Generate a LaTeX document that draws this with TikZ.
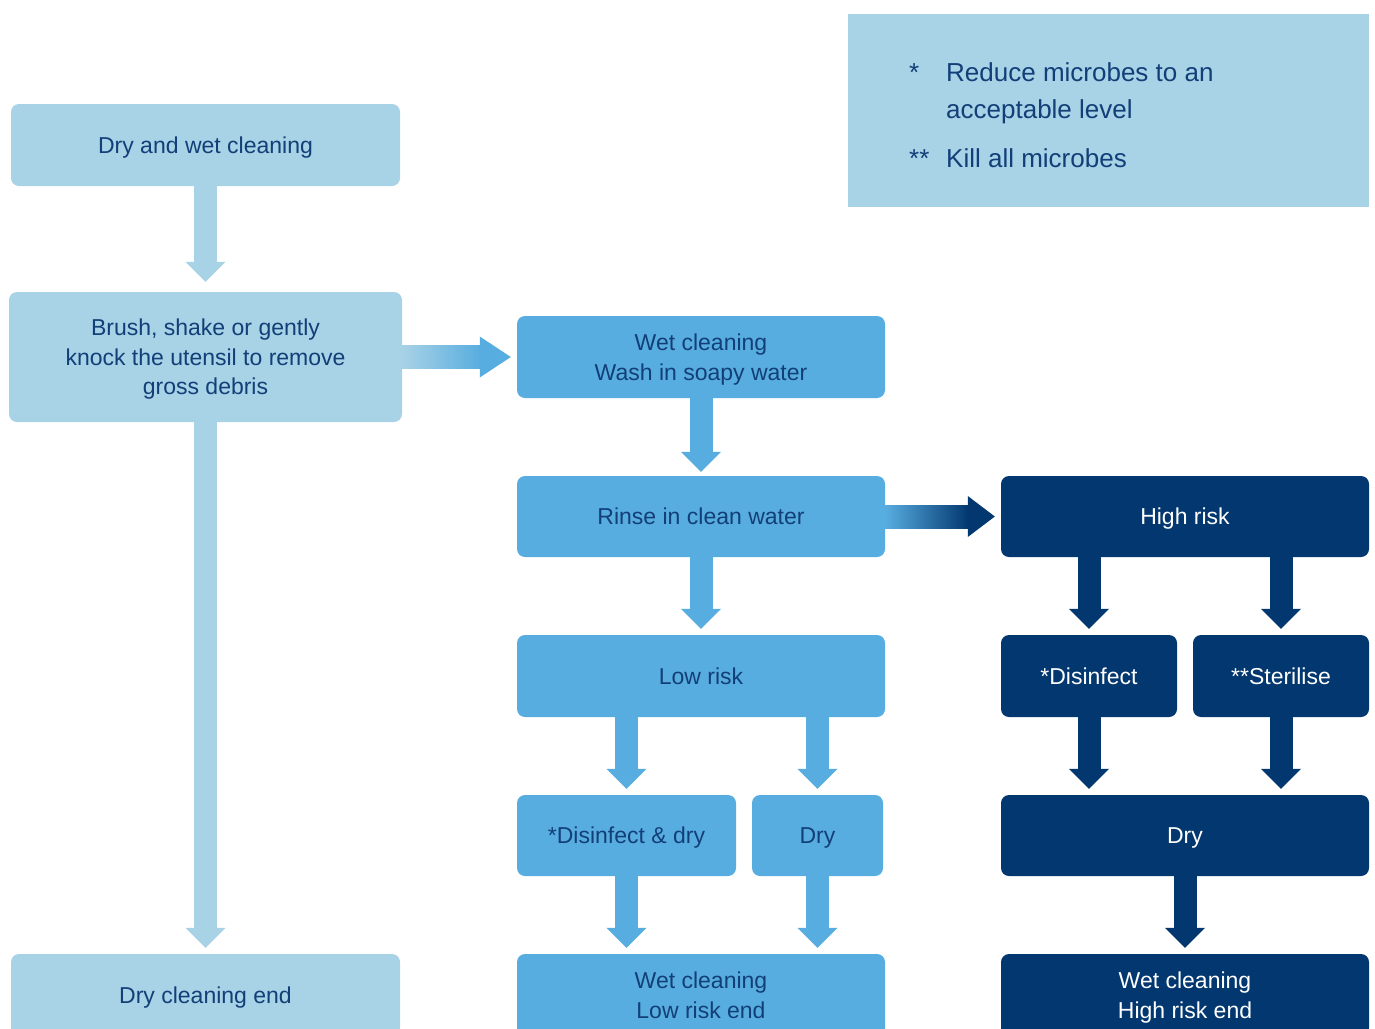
\documentclass[tikz,border=0pt]{standalone}
\usepackage{fontspec}
\setmainfont{Liberation Sans}
\usetikzlibrary{arrows.meta,calc}
\definecolor{lightb}{HTML}{A8D2E6}
\definecolor{midb}{HTML}{58ADE0}
\definecolor{darkb}{HTML}{02376F}
\definecolor{txtb}{HTML}{123F78}
\newcommand\boxfont{\fontsize{23}{29.5}\selectfont}
\newcommand\legfont{\fontsize{26}{37}\selectfont}
\begin{document}
\begin{tikzpicture}[x=1pt,y=-1pt,
  box/.style={rectangle, rounded corners=8pt, inner sep=0pt, align=center, font=\boxfont, text=txtb, text depth=-4pt},
  lbox/.style={box, fill=lightb},
  mbox/.style={box, fill=midb},
  dbox/.style={box, fill=darkb, text=white},
  varrow/.style={line width=23pt, -{Triangle[width=40pt,length=20pt,line width=0pt]}, shorten >=6pt},
  legtext/.style={anchor=base west, inner sep=0pt, font=\legfont, text=txtb}
]
\useasboundingbox (0,0) rectangle (1375,1028);
\clip (0,0) rectangle (1375,1028);

% legend
\node[rectangle, fill=lightb, minimum width=521pt, minimum height=193pt, inner sep=0pt] (legend) at (1108.5,110.5) {};
\node[legtext] (s1) at (909,81) {*};
\node[legtext] (t1) at (946,81) {Reduce microbes to an};
\node[legtext] (t2) at (946,118) {acceptable level};
\node[legtext] (s2) at (909,167) {**};
\node[legtext] (t3) at (946,167) {Kill all microbes};

% left column
\node[lbox, minimum width=389pt, minimum height=82pt] (A) at (205.5,145) {Dry and wet cleaning};
\node[lbox, minimum width=393pt, minimum height=130pt] (B) at (205.5,357) {Brush, shake or gently\\knock the utensil to remove\\gross debris};
\node[lbox, minimum width=389pt, minimum height=82pt] (E) at (205.5,995) {Dry cleaning end};

% middle column
\node[mbox, minimum width=368pt, minimum height=82pt] (W) at (701,357) {Wet cleaning\\Wash in soapy water};
\node[mbox, minimum width=368pt, minimum height=81pt] (R) at (701,516.5) {Rinse in clean water};
\node[mbox, minimum width=368pt, minimum height=82pt] (L) at (701,676) {Low risk};
\node[mbox, minimum width=219pt, minimum height=81pt] (DD) at (626.5,835.5) {*Disinfect \& dry};
\node[mbox, minimum width=131pt, minimum height=81pt] (DL) at (817.5,835.5) {Dry};
\node[mbox, minimum width=368pt, minimum height=82pt] (LE) at (701,995) {Wet cleaning\\Low risk end};

% right column
\node[dbox, minimum width=368pt, minimum height=81pt] (H) at (1185,516.5) {High risk};
\node[dbox, minimum width=176pt, minimum height=82pt] (HD) at (1089,676) {*Disinfect};
\node[dbox, minimum width=176pt, minimum height=82pt] (HS) at (1281,676) {**Sterilise};
\node[dbox, minimum width=368pt, minimum height=81pt] (HY) at (1185,835.5) {Dry};
\node[dbox, minimum width=368pt, minimum height=82pt] (HE) at (1185,995) {Wet cleaning\\High risk end};

% vertical arrows
\draw[varrow, lightb, shorten >=10pt] (A.south) -- (B.north);
\draw[varrow, lightb] (B.south) -- (E.north);
\draw[varrow, midb, shorten >=4pt] (W.south) -- (R.north);
\draw[varrow, midb] (R.south) -- (L.north);
\draw[varrow, midb] (L.south -| DD.north) -- (DD.north);
\draw[varrow, midb] (L.south -| DL.north) -- (DL.north);
\draw[varrow, midb] (DD.south) -- (LE.north -| DD.south);
\draw[varrow, midb] (DL.south) -- (LE.north -| DL.south);
\draw[varrow, darkb] (H.south -| HD.north) -- (HD.north);
\draw[varrow, darkb] (H.south -| HS.north) -- (HS.north);
\draw[varrow, darkb] (HD.south) -- (HY.north -| HD.south);
\draw[varrow, darkb] (HS.south) -- (HY.north -| HS.south);
\draw[varrow, darkb] (HY.south) -- (HE.north);

% gradient horizontal arrows
\shade[left color=lightb, right color=midb] ($(B.east)+(0,-11.5)$) rectangle ($(W.west)+(-36,11.5)$);
\fill[midb] ($(W.west)+(-37,-20.5)$) -- ($(W.west)+(-6,0)$) -- ($(W.west)+(-37,20.5)$) -- cycle;
\shade[left color=midb, right color=darkb] ($(R.east)+(0,-11.5)$) rectangle ($(H.west)+(-32,11.5)$);
\fill[darkb] ($(H.west)+(-33,-20.5)$) -- ($(H.west)+(-6,0)$) -- ($(H.west)+(-33,20.5)$) -- cycle;
\end{tikzpicture}
\end{document}
